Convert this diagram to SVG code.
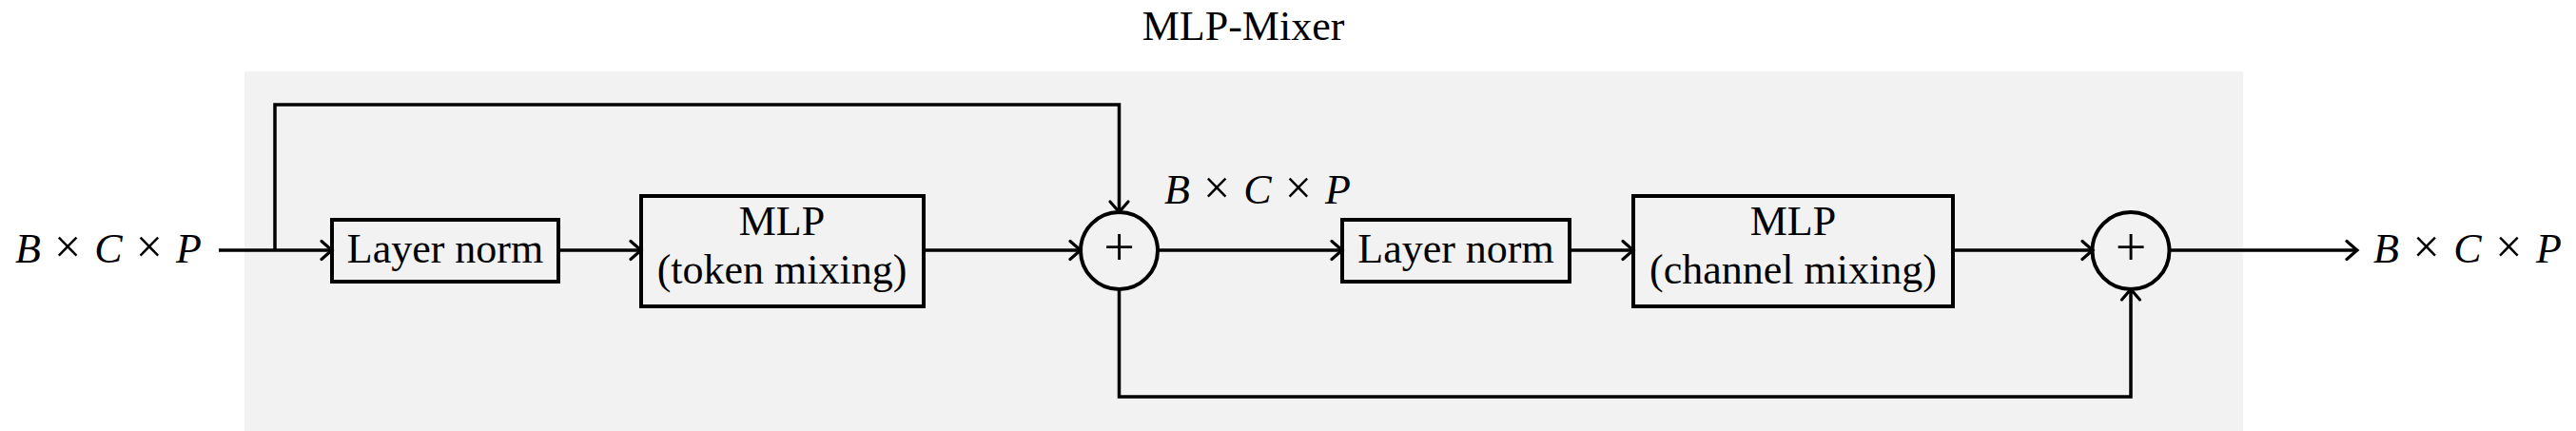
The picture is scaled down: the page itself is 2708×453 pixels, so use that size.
<svg xmlns="http://www.w3.org/2000/svg" width="2708" height="453" viewBox="0 0 2708 453">
<defs>
<style>
text{font-family:"Liberation Serif","Times New Roman",serif;font-size:44px;fill:#000}
.c{text-anchor:middle}
.box{fill:none;stroke:#000;stroke-width:4}
.ln{fill:none;stroke:#000;stroke-width:3.5;marker-end:url(#arr)}
.it{font-style:italic}
.x{font-size:50px}
.plus{font-size:58px}
</style>
<marker id="arr" markerUnits="userSpaceOnUse" viewBox="-14 -10 16 20" refX="0" refY="0" markerWidth="16" markerHeight="20" orient="auto" overflow="visible">
<path d="M -11,-9.5 Q -3,-2.5 0,0 Q -3,2.5 -11,9.5" fill="none" stroke="#000" stroke-width="3.2" stroke-linecap="round"/>
</marker>
</defs>
<rect x="0" y="0" width="2708" height="453" fill="#fff"/>
<rect id="mixer-bg" x="257" y="75" width="2101" height="378" fill="#f2f2f2"/>
<text id="title" class="c" x="1307" y="42">MLP-Mixer</text>

<g id="connectors">
<line class="ln" x1="230" y1="263" x2="349" y2="263"/>
<polyline class="ln" points="289,263 289,110 1176.5,110 1176.5,223"/>
<line class="ln" x1="587" y1="263" x2="674" y2="263"/>
<line class="ln" x1="971" y1="263" x2="1136" y2="263"/>
<line class="ln" x1="1217" y1="263" x2="1411" y2="263"/>
<line class="ln" x1="1650" y1="263" x2="1717" y2="263"/>
<line class="ln" x1="2053" y1="263" x2="2200" y2="263"/>
<polyline class="ln" points="1176.5,304 1176.5,417 2240,417 2240,304"/>
<line class="ln" x1="2280" y1="263" x2="2478" y2="263"/>
</g>

<g id="input">
<text x="16" y="276" textLength="196" lengthAdjust="spacing"><tspan class="it">B</tspan> <tspan class="x">×</tspan> <tspan class="it">C</tspan> <tspan class="x">×</tspan> <tspan class="it">P</tspan></text>
</g>
<g id="layernorm1">
<rect class="box" x="349" y="231" width="238" height="65"/>
<text class="c" x="468" y="276">Layer norm</text>
</g>
<g id="mlp-token">
<rect class="box" x="674" y="206" width="297" height="116"/>
<text class="c" x="822" y="247">MLP</text>
<text class="c" x="822" y="298">(token mixing)</text>
</g>
<g id="add1">
<circle class="box" cx="1176.5" cy="263.5" r="40.5"/>
<text class="c plus" x="1176.5" y="279">+</text>
</g>
<g id="mid-label">
<text x="1224" y="214" textLength="196" lengthAdjust="spacing"><tspan class="it">B</tspan> <tspan class="x">×</tspan> <tspan class="it">C</tspan> <tspan class="x">×</tspan> <tspan class="it">P</tspan></text>
</g>
<g id="layernorm2">
<rect class="box" x="1411" y="231" width="239" height="65"/>
<text class="c" x="1530.5" y="276">Layer norm</text>
</g>
<g id="mlp-channel">
<rect class="box" x="1717" y="206" width="336" height="116"/>
<text class="c" x="1885" y="247">MLP</text>
<text class="c" x="1885" y="298">(channel mixing)</text>
</g>
<g id="add2">
<circle class="box" cx="2240" cy="263.5" r="40.5"/>
<text class="c plus" x="2240" y="279">+</text>
</g>
<g id="output">
<text x="2495" y="276" textLength="198" lengthAdjust="spacing"><tspan class="it">B</tspan> <tspan class="x">×</tspan> <tspan class="it">C</tspan> <tspan class="x">×</tspan> <tspan class="it">P</tspan></text>
</g>
</svg>
